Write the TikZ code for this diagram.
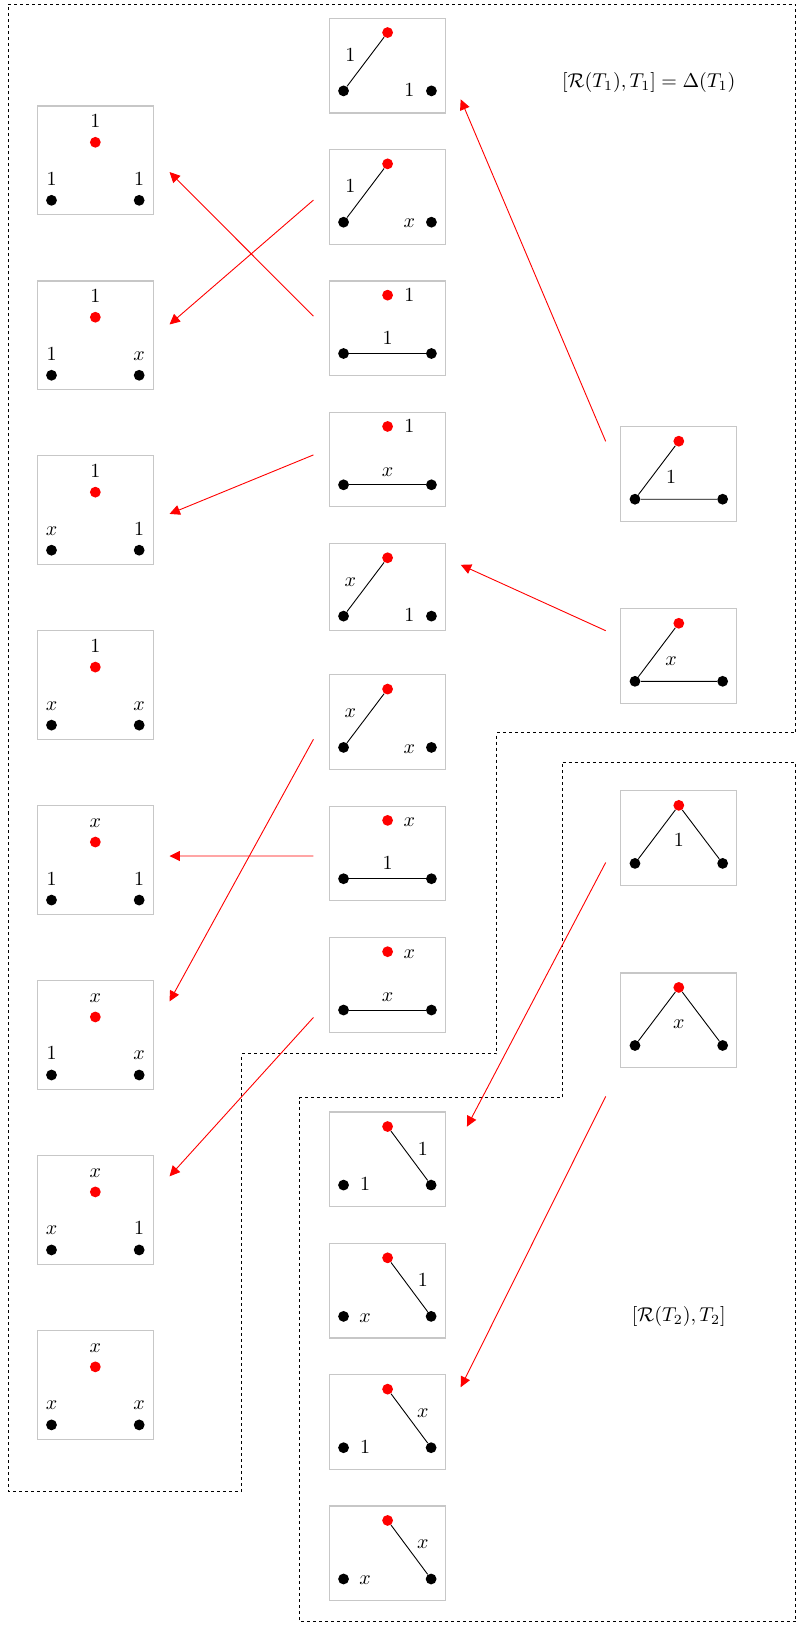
\documentclass[tikz,border=0pt]{standalone}
\usetikzlibrary{arrows.meta}
\tikzset{
  %% frame round one weighted graph
  gbox/.style={rectangle,draw=black!22,line width=0.6pt,minimum width=58pt,inner sep=0pt},
  %% vertices
  rv/.style={circle,fill=red,inner sep=0pt,minimum size=5.4pt},
  bv/.style={circle,fill=black,inner sep=0pt,minimum size=5.4pt},
  edg/.style={line width=0.45pt,color=black},
  %% weights
  wt/.style={anchor=base,inner sep=0pt},
  %% dashed region
  reg/.style={dash pattern=on 1.5pt off 1.5pt,line width=0.5pt},
  %% arrows
  rarr/.style={-{Triangle[length=5.2pt,width=5pt]},red,line width=0.45pt},
}
\begin{document}
\begin{tikzpicture}[x=0.518pt,y=-0.518pt]
  \useasboundingbox (0,0) rectangle (771,1568);

  %% left column: no edges
  \foreach \i/\t/\a/\b/\c in {1/102.3/1/1/1, 2/271.1/1/1/x, 3/439.9/1/x/1, 4/608.7/1/x/x,
      5/777.5/x/1/1, 6/946.3/x/1/x, 7/1115.1/x/x/1, 8/1283.9/x/x/x}{
    \begin{scope}[shift={(92,\t)}]
      \node[gbox,minimum height=54.4pt] (l\i) at (0,52.5) {};
      \node[rv] (lr\i) at (0,35) {};
      \node[bv] (la\i) at (-42.3,91) {};
      \node[bv] (lb\i) at (42.3,91) {};
      \node[wt] (lwr\i) at (0,21) {$\a$};
      \node[wt] (lwa\i) at (-42.3,76.5) {$\b$};
      \node[wt] (lwb\i) at (42.3,76.5) {$\c$};
    \end{scope}
  }

  %% middle column: red--left edge
  \foreach \i/\t/\h/\a/\b in {1/17.7/91.3/1/1, 2/144.4/91.3/1/x, 5/524.5/84/x/1, 6/651.2/91.3/x/x}{
    \begin{scope}[shift={(374,\t)}]
      \node[gbox,minimum height=\h*0.518pt] (m\i) at (0,\h/2) {};
      \node[rv] (mr\i) at (0,13.7) {};
      \node[bv] (ma\i) at (-42.5,70) {};
      \node[bv] (mb\i) at (42.3,70) {};
      \draw[edg] (mr\i) -- (ma\i);
      \node[wt] (mwe\i) at (-36,41.5) {$\a$};
      \node[wt] (mwb\i) at (21,75.5) {$\b$};
    \end{scope}
  }
  %% middle column: left--right edge
  \foreach \i/\t/\a/\b in {3/271.1/1/1, 4/397.8/1/x, 7/777.9/x/1, 8/904.6/x/x}{
    \begin{scope}[shift={(374,\t)}]
      \node[gbox,minimum height=47.3pt] (m\i) at (0,45.65) {};
      \node[rv] (mr\i) at (0,13.7) {};
      \node[bv] (ma\i) at (-42.5,70) {};
      \node[bv] (mb\i) at (42.3,70) {};
      \draw[edg] (ma\i) -- (mb\i);
      \node[wt] (mwr\i) at (21,20) {$\a$};
      \node[wt] (mwe\i) at (0,61.5) {$\b$};
    \end{scope}
  }
  %% lower middle column: red--right edge
  \foreach \i/\t/\a/\b in {9/1073/1/1, 10/1199.7/1/x, 11/1326.4/x/1, 12/1453.1/x/x}{
    \begin{scope}[shift={(374,\t)}]
      \node[gbox,minimum height=47.3pt] (m\i) at (0,45.65) {};
      \node[rv] (mr\i) at (0,14) {};
      \node[bv] (ma\i) at (-42.5,70.5) {};
      \node[bv] (mb\i) at (42,70.5) {};
      \draw[edg] (mr\i) -- (mb\i);
      \node[wt] (mwe\i) at (34,41.5) {$\a$};
      \node[wt] (mwa\i) at (-21.6,76) {$\b$};
    \end{scope}
  }

  %% right column
  \foreach \i/\t/\a in {1/411.7/1, 2/587.4/x}{
    \begin{scope}[shift={(655,\t)}]
      \node[gbox,minimum height=47.3pt] (r\i) at (0,45.65) {};
      \node[rv] (rr\i) at (0,14) {};
      \node[bv] (ra\i) at (-42.3,70) {};
      \node[bv] (rb\i) at (42.3,70) {};
      \draw[edg] (rr\i) -- (ra\i) -- (rb\i);
      \node[wt] (rw\i) at (-7.5,54.5) {$\a$};
    \end{scope}
  }
  \foreach \i/\t/\a in {3/763.1/1, 4/938.8/x}{
    \begin{scope}[shift={(655,\t)}]
      \node[gbox,minimum height=47.3pt] (r\i) at (0,45.65) {};
      \node[rv] (rr\i) at (0,14) {};
      \node[bv] (ra\i) at (-42.3,70) {};
      \node[bv] (rb\i) at (42.3,70) {};
      \draw[edg] (ra\i) -- (rr\i) -- (rb\i);
      \node[wt] (rw\i) at (0,54) {$\a$};
    \end{scope}
  }

  %% dashed regions
  \draw[reg] (8,4) -- (768,4) -- (768,707) -- (479,707) -- (479,1017) -- (233,1017)
    -- (233,1439) -- (8,1439) -- cycle;
  \draw[reg] (543,736) -- (768,736) -- (768,1565) -- (289,1565) -- (289,1059)
    -- (543,1059) -- cycle;
  \node (t1) at (626,80) {$[\mathcal{R}(T_1),T_1]=\Delta(T_1)$};
  \node (t2) at (655,1270) {$[\mathcal{R}(T_2),T_2]$};

  %% arrows
  \draw[rarr] ([shift={(-15,-11.7)}]m3.west) -- ([shift={(15,11.2)}]l1.east);
  \draw[rarr] ([shift={(-15,3)}]m2.west)     -- ([shift={(15,-10.5)}]l2.east);
  \draw[rarr] ([shift={(-15,-4.5)}]m4.west)  -- ([shift={(15,3.5)}]l3.east);
  \draw[rarr] ([shift={(-15,16.5)}]m6.west)  -- ([shift={(15,-32.5)}]l6.east);
  \draw[rarr] ([shift={(-15,2.45)}]m7.west)  -- ([shift={(15,-4)}]l5.east);
  \draw[rarr] ([shift={(-15,31.5)}]m8.west)  -- ([shift={(15,-32.5)}]l7.east);
  \draw[rarr] ([shift={(-14,-31.5)}]r1.west) -- ([shift={(14,32.5)}]m1.east);
  \draw[rarr] ([shift={(-14,-24.5)}]r2.west) -- ([shift={(14,-21.5)}]m5.east);
  \draw[rarr] ([shift={(-14,23.5)}]r3.west)  -- ([shift={(20,-31.5)}]m9.east);
  \draw[rarr] ([shift={(-14,73.5)}]r4.west)  -- ([shift={(14,-33.5)}]m11.east);
\end{tikzpicture}
\end{document}
